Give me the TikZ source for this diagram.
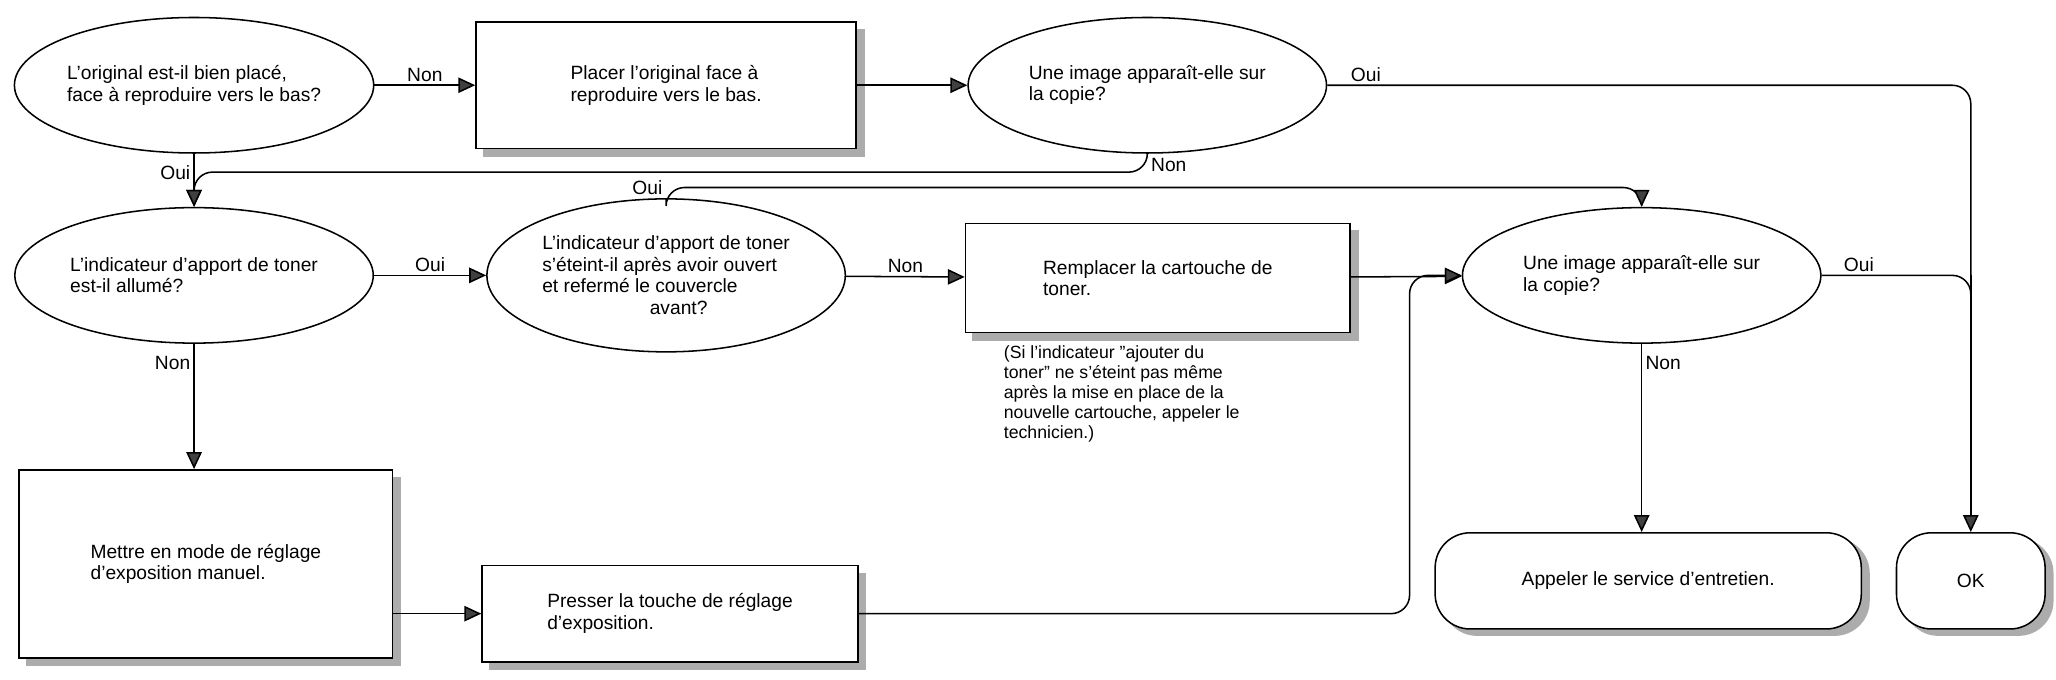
\documentclass[tikz,border=0pt]{standalone}
\usepackage{fontspec}
\setmainfont{Liberation Sans}
\usetikzlibrary{arrows.meta,backgrounds,shapes.geometric,positioning}

\begin{document}
\begin{tikzpicture}[
        x=0.03cm, y=-0.03cm,
        font=\fontsize{12.5}{14}\selectfont,
        line width=1pt,
        question node/.style={ellipse, draw, fill=white, align=left, inner sep=0pt,
                minimum width=8.2cm, minimum height=3.1cm},
        action node/.style={rectangle, draw, fill=white, align=left},
        end node/.style={rectangle, rounded corners=0.8cm, draw, fill=white,
                minimum height=2.2cm},
        shade back/.style={fill=gray!65, draw=none},
        arr/.style={-{Triangle[length=11pt, width=10pt, fill=gray!50!black]}, rounded corners=12pt},
        answer/.style={inner sep=2pt},
    ]
    \useasboundingbox (0,0) rectangle (1568,518);

    % first row
    \node[question node] (q1) at (148,65) {L'original est-il bien placé,\\face à reproduire vers le bas?};
    \node[action node, minimum width=8.7cm, minimum height=2.9cm] (a1) at (508,65)
        {Placer l'original face à\\reproduire vers le bas.};
    \node[question node] (q2) at (875,65) {Une image apparaît-elle sur\\la copie?};

    % second row
    \node[question node] (q3) at (148,210) {L'indicateur d'apport de toner\\est-il allumé?};
    \node[question node, minimum height=3.5cm] (q4) at (508,210)
        {L'indicateur d'apport de toner\\s'éteint-il après avoir ouvert\\et refermé le couvercle\\\hspace*{5.6em}avant?};
    \node[action node, minimum width=8.8cm, minimum height=2.5cm] (a2) at (883,212)
        {Remplacer la cartouche de\\toner.};
    \node[align=left, anchor=north west, inner sep=0pt, font=\fontsize{11.5}{13}\selectfont] (n1) at (765,263)
        {(Si l'indicateur ''ajouter du\\toner'' ne s'éteint pas même\\après la mise en place de la\\nouvelle cartouche, appeler le\\technicien.)};
    \node[question node] (q5) at (1252,210) {Une image apparaît-elle sur\\la copie?};

    % third row
    \node[action node, minimum width=8.55cm, minimum height=4.3cm] (a3) at (157,430)
        {Mettre en mode de réglage\\d'exposition manuel.};
    \node[action node, minimum width=8.6cm, minimum height=2.2cm] (a4) at (511,468)
        {Presser la touche de réglage\\d'exposition.};
    \node[end node, minimum width=9.75cm] (e1) at (1257,443) {Appeler le service d'entretien.};
    \node[end node, minimum width=3.4cm] (e2) at (1503,443) {OK};

    % shadows behind the shapes
    \begin{scope}[on background layer]
        \foreach \n/\h in {q1/1.55, q2/1.55, q3/1.55, q4/1.75, q5/1.55}
            \fill[shade back, shift={(1pt,-5pt)}] (\n.center) ellipse [x radius=4.1cm, y radius=\h cm];
        \foreach \n in {a1, a2, a3, a4}
            \fill[shade back] ([shift={(5pt,-5pt)}]\n.south west) rectangle ([shift={(5pt,-5pt)}]\n.north east);
        \foreach \n in {e1, e2}
            \fill[shade back, rounded corners=0.8cm] ([shift={(5pt,-4pt)}]\n.south west) rectangle ([shift={(5pt,-4pt)}]\n.north east);
    \end{scope}

    \coordinate (c1) at (1503,65);
    \coordinate (c2) at (1503,210);
    \coordinate (c3) at (1252,143);
    \coordinate (c4) at (1075,210);

    % connectors
    \draw[arr] (q1) -- node[answer, above] (l1) {Non} (a1);
    \draw[arr] (a1) -- (q2);
    \draw[rounded corners=12pt] (q2.east) -- node[answer, above, pos=0.06] (l2) {Oui} (c1) -- (c2);
    \draw[arr] (c2) -- (c2 |- e2.north);
    \draw[arr] (q1.south) -- node[answer, left, pos=0.35] (l3) {Oui} (q3.north);
    \draw[arr] (q2.south) -- ++(0,14) node[answer, right, pos=0.6] (l4) {Non} -| (q3.north);
    \draw[arr] (q3) -- node[answer, above] (l5) {Oui} (q4);
    \draw[arr] (q4.north) node[answer, above left] (l6) {Oui} |- (c3) -- (q5.north);
    \draw[arr] (q4) -- node[answer, above] (l7) {Non} (a2);
    \draw[arr] (a2) -- (q5);
    \draw[rounded corners=12pt] (q5.east) -- node[answer, above, pos=0.25] (l8) {Oui} (c2) -- ++(0,20);
    \draw[arr] (q5.south) -- node[answer, right, pos=0.1] (l9) {Non} (q5.south |- e1.north);
    \draw[arr] (q3.south) -- node[answer, left, pos=0.15] (l10) {Non} (q3.south |- a3.north);
    \draw[arr] (a3.east |- a4) -- (a4);
    \draw[arr] (a4.east) -| (c4) -- (q5.west);
\end{tikzpicture}
\end{document}
